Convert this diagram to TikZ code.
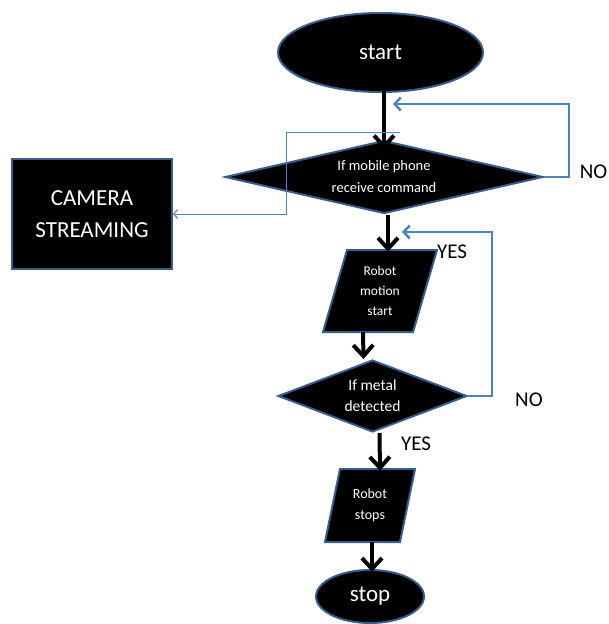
\documentclass[tikz,border=0pt]{standalone}
\usepackage{fontspec}
\setmainfont{Carlito}
\usetikzlibrary{shapes.geometric,arrows.meta,calc}
\definecolor{edgeblue}{RGB}{56,93,138}
\definecolor{loopblue}{RGB}{79,129,189}
\begin{document}
\begin{tikzpicture}[x=1pt,y=-1pt,
  shapebox/.style={fill=black,draw=edgeblue,line width=2pt,text=white,align=center,inner sep=0pt},
  oval/.style={shapebox,ellipse},
  decision/.style={shapebox,diamond},
  flowarrow/.style={line width=4pt,draw=black,-{Straight Barb[length=11pt,width=20pt,line width=4pt]}},
  loopline/.style={line width=2.5pt,draw=loopblue,-{Straight Barb[length=6pt,width=13pt,line width=2.5pt]}},
  thinline/.style={line width=1pt,draw=loopblue,-{Straight Barb[length=4pt,width=9pt,line width=1pt]}},
  lbl/.style={font=\fontsize{21}{23}\selectfont,inner sep=0pt}
]
\useasboundingbox (0,0) rectangle (609,624);
% start
\node[oval,minimum width=205,minimum height=79,font=\fontsize{23}{25}\selectfont] (start) at (380.5,52.5) {start};
% decision 1
\node[decision,aspect=4.36,minimum width=318,minimum height=73,font=\fontsize{14.5}{22}\selectfont] (d1) at (384,177) {If mobile phone\\receive command};
% camera
\node[shapebox,rectangle,minimum width=160,minimum height=110,font=\fontsize{23}{32}\selectfont] (cam) at (92,214) {CAMERA\\STREAMING};
% parallelogram 1
\draw[shapebox] (347,250) -- (437,250) -- (413,332) -- (323,332) -- cycle;
\node[align=center,text=white,font=\fontsize{13.5}{20}\selectfont,minimum width=90,minimum height=82,inner sep=0pt] (p1) at (380,291) {Robot\\motion\\start};
% decision 2
\node[decision,aspect=2.6,minimum width=189,minimum height=72,font=\fontsize{15.5}{21}\selectfont] (d2) at (372.5,396) {If metal\\detected};
% parallelogram 2
\draw[shapebox] (340,469) -- (415,469) -- (400,542) -- (325,542) -- cycle;
\node[align=center,text=white,font=\fontsize{14}{21}\selectfont,minimum width=75,minimum height=73,inner sep=0pt] (p2) at (370,505.5) {Robot\\stops};
% stop
\node[oval,minimum width=108,minimum height=53,font=\fontsize{23}{25}\selectfont] (stop) at (370,596.5) {stop};

% coordinates for loop ends
\coordinate (n1) at (393,104);
\coordinate (n2) at (402,232);
\coordinate (t0) at (400,132);

% black flow arrows
\draw[flowarrow] ($(start.south)+(3.5,-2)$) -- ($(d1.north)+(0,10)$);
\draw[flowarrow] ($(d1.south)+(4,0)$) -- ($(p1.north)+(8,2)$);
\draw[flowarrow] ($(p1.south)+(-17,0)$) -- ($(d2.north)+(-9,0)$);
\draw[flowarrow] ($(d2.south)+(7,0)$) -- ($(p2.north)+(10,2)$);
\draw[flowarrow] ($(p2.south)+(2,0)$) -- ($(stop.north)+(2,3)$);

% blue loops
\draw[loopline] (d1.east) -- ++(25,0) |- (n1);
\draw[loopline] (d2.east) -- ++(24,0) |- (n2);
\draw[thinline] (t0) -- ++(-114,0) |- (cam.east);

% labels
\node[lbl,anchor=east] (no1) at (607.5,172) {NO};
\node[lbl,anchor=west] (yes1) at (437,252) {YES};
\node[lbl,anchor=west] (no2) at (515,400) {NO};
\node[lbl,anchor=west] (yes2) at (401,444) {YES};
\end{tikzpicture}
\end{document}
